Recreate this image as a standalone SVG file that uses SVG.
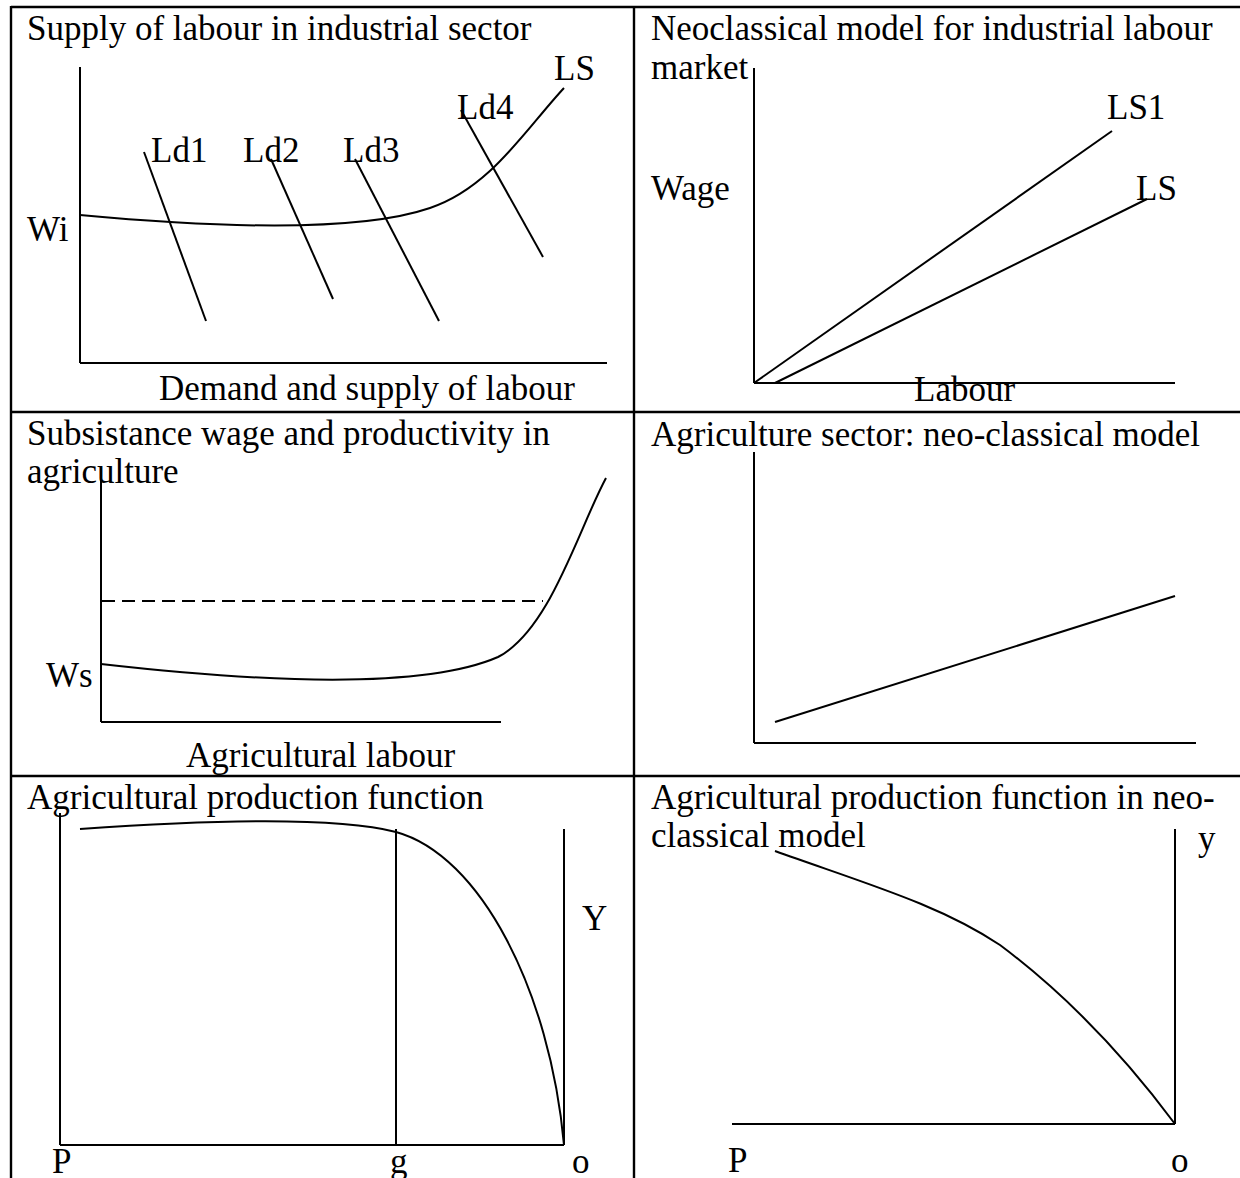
<svg xmlns="http://www.w3.org/2000/svg" width="1240" height="1178" viewBox="0 0 1240 1178">
<style>
text{font-family:"Liberation Serif","Times New Roman",serif;font-size:35px;fill:#000}
.b{stroke:#000;stroke-width:2.4;fill:none}
.ax{stroke:#000;stroke-width:2;fill:none}
.c{stroke:#000;stroke-width:2;fill:none}
.d{stroke:#000;stroke-width:2;fill:none;stroke-dasharray:13 7}
</style>
<rect width="1240" height="1178" fill="#fff"/>
<g id="table">
<line class="b" x1="11" y1="7" x2="1240" y2="7"/>
<line class="b" x1="11" y1="412" x2="1240" y2="412"/>
<line class="b" x1="11" y1="776" x2="1240" y2="776"/>
<line class="b" x1="11" y1="6" x2="11" y2="1178"/>
<line class="b" x1="634" y1="6" x2="634" y2="1178"/>
</g>
<g id="cell1">
<text x="27" y="40">Supply of labour in industrial sector</text>
<line class="ax" x1="80" y1="67" x2="80" y2="363"/>
<line class="ax" x1="80" y1="363" x2="607" y2="363"/>
<text x="27" y="241">Wi</text>
<path class="c" d="M80,215 C220,228 360,232 430,208 C490,188 525,130 564,88"/>
<line class="c" x1="144" y1="152" x2="206" y2="321"/>
<line class="c" x1="271" y1="159" x2="333" y2="299"/>
<line class="c" x1="355" y1="159" x2="439" y2="321"/>
<line class="c" x1="461" y1="110" x2="543" y2="257"/>
<text x="151" y="162">Ld1</text>
<text x="243" y="162">Ld2</text>
<text x="343" y="162">Ld3</text>
<text x="457" y="119">Ld4</text>
<text x="554" y="80">LS</text>
<text x="159" y="400">Demand and supply of labour</text>
</g>
<g id="cell2">
<text x="651" y="40">Neoclassical model for industrial labour</text>
<text x="651" y="79">market</text>
<line class="ax" x1="754" y1="68" x2="754" y2="383"/>
<line class="ax" x1="754" y1="383" x2="1175" y2="383"/>
<text x="651" y="200">Wage</text>
<line class="c" x1="754" y1="383" x2="1112" y2="131"/>
<line class="c" x1="775" y1="383" x2="1147" y2="199"/>
<text x="1107" y="119">LS1</text>
<text x="1136" y="200">LS</text>
<text x="914" y="401">Labour</text>
</g>
<g id="cell3">
<text x="27" y="445">Subsistance wage and productivity in</text>
<text x="27" y="483">agriculture</text>
<line class="ax" x1="101" y1="468" x2="101" y2="722"/>
<line class="ax" x1="101" y1="722" x2="501" y2="722"/>
<line class="d" x1="102" y1="601" x2="543" y2="601"/>
<path class="c" d="M101,664 C250,681 420,691 498,657 C550,630 578,530 606,478"/>
<text x="46" y="687">Ws</text>
<text x="186" y="767">Agricultural labour</text>
</g>
<g id="cell4">
<text x="651" y="446">Agriculture sector: neo-classical model</text>
<line class="ax" x1="754" y1="452" x2="754" y2="743"/>
<line class="ax" x1="754" y1="743" x2="1196" y2="743"/>
<line class="c" x1="775" y1="722" x2="1175" y2="596"/>
</g>
<g id="cell5">
<text x="27" y="809">Agricultural production function</text>
<line class="ax" x1="60" y1="813" x2="60" y2="1145"/>
<line class="ax" x1="60" y1="1145" x2="564" y2="1145"/>
<line class="c" x1="396" y1="829" x2="396" y2="1145"/>
<line class="ax" x1="564" y1="829" x2="564" y2="1145"/>
<path class="c" d="M80,829 C180,822 330,815 396,832 C480,855 550,990 564,1145"/>
<text x="582" y="930">Y</text>
<text x="52" y="1173">P</text>
<text x="390" y="1173">g</text>
<text x="572" y="1173">o</text>
</g>
<g id="cell6">
<text x="651" y="809">Agricultural production function in neo-</text>
<text x="651" y="847">classical model</text>
<line class="ax" x1="1175" y1="829" x2="1175" y2="1124"/>
<line class="ax" x1="732" y1="1124" x2="1175" y2="1124"/>
<path class="c" d="M775,851 C870,885 940,905 1000,945 C1060,990 1120,1050 1175,1124"/>
<text x="1198" y="850">y</text>
<text x="728" y="1172">P</text>
<text x="1171" y="1172">o</text>
</g>
</svg>
